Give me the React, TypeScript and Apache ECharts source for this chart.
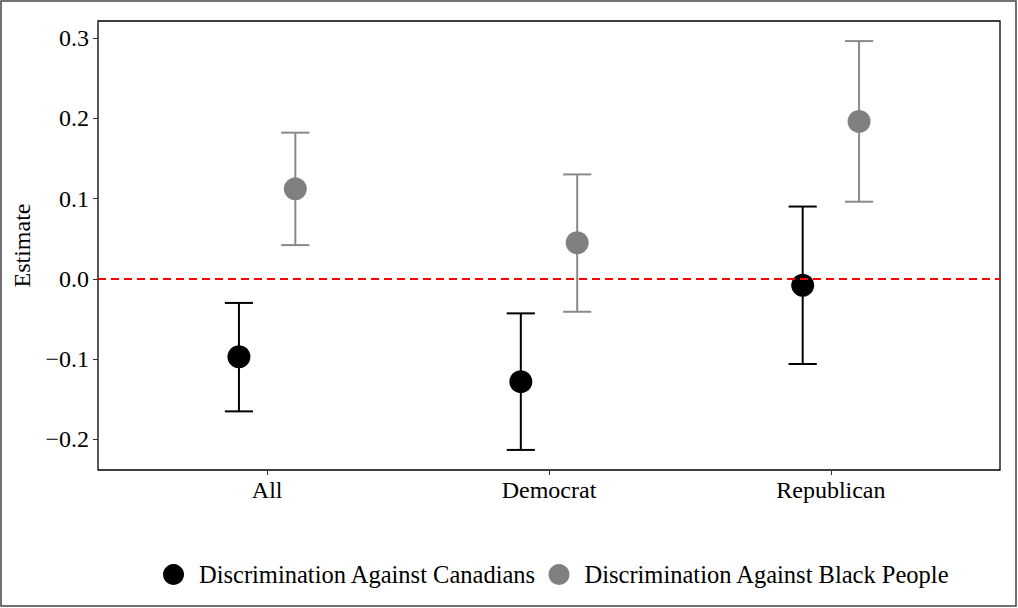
import React, { useEffect, useRef } from "react";
import * as echarts from "echarts";

const categories = ["All", "Democrat", "Republican"];
const seriesNames = [
  "Discrimination Against Canadians",
  "Discrimination Against Black People",
];
const canadiansEstimate = [-0.097, -0.128, -0.008];
const canadiansLower = [-0.165, -0.213, -0.106];
const canadiansUpper = [-0.03, -0.043, 0.09];
const blackEstimate = [0.112, 0.045, 0.196];
const blackLower = [0.042, -0.041, 0.096];
const blackUpper = [0.182, 0.13, 0.296];
const yTicks = [-0.2, -0.1, 0, 0.1, 0.2, 0.3];
const xTicks = [1, 2, 3];

const FONT = "'Liberation Serif', 'Times New Roman', serif";
const BLACK = "#000000";
const GREY = "#808080";
const GREY_BAR = "#8a8a8a";
const DODGE = 0.1;

export default function App() {
  const ref = useRef<HTMLDivElement>(null);

  useEffect(() => {
    if (!ref.current) return;
    const chart = echarts.init(ref.current, undefined, { renderer: "svg" });

    const ciData = (lo: number[], hi: number[], off: number) =>
      categories.map((_, i) => [i + 1 + off, lo[i], hi[i]]);
    const ptData = (est: number[], off: number) =>
      categories.map((_, i) => [i + 1 + off, est[i]]);

    const errorBar = (color: string) => (params: any, api: any) => {
      const x = api.value(0);
      const lo = api.value(1);
      const hi = api.value(2);
      const pLo = api.coord([x, lo]);
      const pHi = api.coord([x, hi]);
      const half = api.size([0.1, 0])[0] / 2;
      const style = { stroke: color, lineWidth: 2 };
      return {
        type: "group",
        children: [
          { type: "line", shape: { x1: pHi[0], y1: pHi[1], x2: pLo[0], y2: pLo[1] }, style },
          { type: "line", shape: { x1: pHi[0] - half, y1: pHi[1], x2: pHi[0] + half, y2: pHi[1] }, style },
          { type: "line", shape: { x1: pLo[0] - half, y1: pLo[1], x2: pLo[0] + half, y2: pLo[1] }, style },
        ],
      };
    };

    const fmtY = (v: number) => {
      const r = Math.round(v * 10) / 10;
      return (r < 0 ? "\u2212" : "") + Math.abs(r).toFixed(1);
    };

    chart.setOption({
      animation: false,
      backgroundColor: "#ffffff",
      graphic: [
        {
          type: "rect",
          shape: { x: 1, y: 1, width: 1015, height: 605 },
          style: { fill: "none", stroke: "#444444", lineWidth: 1.5 },
          silent: true,
        },
      ],
      grid: {
        left: 98,
        top: 21,
        width: 902,
        height: 449,
        show: true,
        borderColor: "#000000",
        borderWidth: 1.3,
        backgroundColor: "transparent",
      },
      legend: {
        data: seriesNames,
        left: 158,
        top: 557,
        icon: "circle",
        itemWidth: 41,
        itemHeight: 21,
        itemGap: 12,
        itemStyle: { opacity: 1 },
        textStyle: { fontFamily: FONT, fontSize: 24.5, color: "#000" },
        selectedMode: false,
      },
      xAxis: {
        type: "value",
        min: 0.4,
        max: 3.6,
        axisLine: { show: false, onZero: false },
        splitLine: { show: false },
        axisTick: {
          show: true,
          customValues: xTicks,
          length: 5,
          lineStyle: { color: "#333", width: 1 },
        },
        axisLabel: {
          customValues: xTicks,
          formatter: (v: number) => categories[Math.round(v) - 1] ?? "",
          fontFamily: FONT,
          fontSize: 24,
          color: "#000",
          margin: 8,
        },
      },
      yAxis: {
        type: "value",
        min: -0.238,
        max: 0.321,
        name: "Estimate",
        nameLocation: "middle",
        nameRotate: 90,
        nameGap: 64,
        nameTextStyle: { fontFamily: FONT, fontSize: 24, color: "#000" },
        axisLine: { show: false, onZero: false },
        splitLine: { show: false },
        axisTick: {
          show: true,
          customValues: yTicks,
          length: 5,
          lineStyle: { color: "#333", width: 1 },
        },
        axisLabel: {
          customValues: yTicks,
          formatter: fmtY,
          fontFamily: FONT,
          fontSize: 24,
          color: "#000",
          margin: 9,
        },
      },
      series: [
        {
          name: "ci-canadians",
          type: "custom",
          renderItem: errorBar(BLACK),
          data: ciData(canadiansLower, canadiansUpper, -DODGE),
          encode: { x: 0, y: [1, 2] },
          z: 2,
          silent: true,
        },
        {
          name: "ci-black",
          type: "custom",
          renderItem: errorBar(GREY_BAR),
          data: ciData(blackLower, blackUpper, DODGE),
          encode: { x: 0, y: [1, 2] },
          z: 2,
          silent: true,
        },
        {
          name: seriesNames[0],
          type: "scatter",
          symbol: "circle",
          symbolSize: 23,
          itemStyle: { color: BLACK, opacity: 1 },
          data: ptData(canadiansEstimate, -DODGE),
          z: 3,
        },
        {
          name: seriesNames[1],
          type: "scatter",
          symbol: "circle",
          symbolSize: 23,
          itemStyle: { color: GREY, opacity: 1 },
          data: ptData(blackEstimate, DODGE),
          z: 3,
        },
        {
          name: "zero",
          type: "line",
          data: [],
          z: 10,
          markLine: {
            silent: true,
            symbol: "none",
            label: { show: false },
            lineStyle: { color: "#ff0000", type: [8, 5], width: 2, opacity: 1 },
            data: [{ yAxis: 0 }],
          },
        },
      ],
    });

    return () => chart.dispose();
  }, []);

  return (
    <div
      ref={ref}
      style={{ position: "fixed", left: 0, top: 0, width: 1018, height: 608, background: "#fff" }}
    />
  );
}
